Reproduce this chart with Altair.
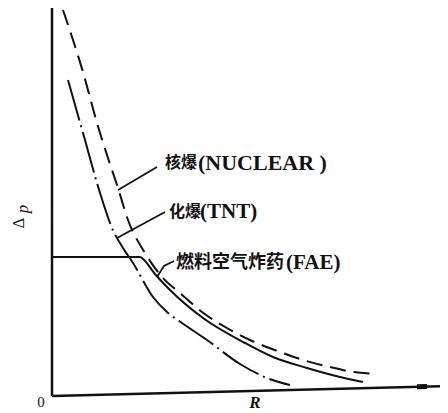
import altair as alt
import pandas as pd

# ---- data (R, Δp in arbitrary units) ----
nuclear_R  = [2.75, 5.25, 7.75, 11.25, 14.0, 16.5, 19.0, 23.25, 27.75, 32.0, 37.5, 43.75, 49.5, 57.0, 62.75, 69.5, 75.25, 81.25]
nuclear_dp = [96.25, 88.75, 80.75, 68.0, 59.25, 51.75, 43.75, 35.5, 29.25, 25.5, 20.75, 16.75, 13.75, 10.75, 8.75, 7.0, 5.75, 5.25]

tnt_R  = [4.0, 8.25, 12.0, 15.0, 17.75, 20.25, 25.25, 28.75, 32.5, 38.75, 47.0, 53.75, 59.5]
tnt_dp = [78.75, 63.75, 50.5, 41.75, 36.75, 33.0, 24.5, 20.75, 18.0, 13.75, 7.75, 4.25, 2.5]

fae_R  = [0.0, 22.0, 22.75, 25.75, 29.5, 37.75, 48.25, 55.25, 63.75, 72.0, 77.75]
fae_dp = [34.5, 34.5, 34.0, 30.25, 26.25, 19.25, 13.0, 9.5, 6.75, 4.5, 3.25]

# leader lines (label pointers)
leader_id = ["n", "n", "t", "t", "f", "f", "f"]
leader_R  = [16.5, 26.25, 16.25, 28.25, 26.25, 28.0, 30.5]
leader_dp = [51.25, 57.0, 39.25, 45.75, 29.5, 32.25, 33.5]

# labels
cjk_labels  = ["核爆", "化爆", "燃料空气炸药"]
cjk_R       = [28.25, 29.25, 31.0]
cjk_dp      = [58.0, 45.75, 33.1]
cjk_size    = [16, 16, 18]
latin_labels = ["(NUCLEAR )", "(TNT)", "(FAE)"]
latin_R      = [36.5, 37.0, 58.5]
latin_dp     = [58.0, 45.75, 33.1]
latin_size   = [22, 21, 21]

INK = "#111111"

xs = alt.Scale(domain=[-11, 97], nice=False, zero=False)
ys = alt.Scale(domain=[-4.5, 96.75], nice=False, zero=False)


def curve(R, dp, dash):
    df = pd.DataFrame({"R": R, "dp": dp, "o": list(range(len(R)))})
    kw = dict(color=INK, strokeWidth=2, interpolate="monotone")
    if dash:
        kw["strokeDash"] = dash
    return alt.Chart(df).mark_line(**kw).encode(
        x=alt.X("R:Q", scale=xs, axis=None),
        y=alt.Y("dp:Q", scale=ys, axis=None),
        order="o:Q",
    )


nuc = curve(nuclear_R, nuclear_dp, [16, 8])
tnt = curve(tnt_R, tnt_dp, [42, 5, 2, 5])
fae = curve(fae_R, fae_dp, None)

lead_df = pd.DataFrame({"id": leader_id, "R": leader_R, "dp": leader_dp, "o": list(range(len(leader_R)))})
leaders = alt.Chart(lead_df).mark_line(color=INK, strokeWidth=1.8).encode(
    x=alt.X("R:Q", scale=xs, axis=None),
    y=alt.Y("dp:Q", scale=ys, axis=None),
    detail="id:N",
    order="o:Q",
)

# axes drawn as rules
yaxis_df = pd.DataFrame({"R": [0.0], "y1": [-0.25], "y2": [96.75]})
yaxis = alt.Chart(yaxis_df).mark_rule(color=INK, strokeWidth=2.5).encode(
    x=alt.X("R:Q", scale=xs, axis=None),
    y=alt.Y("y1:Q", scale=ys, axis=None),
    y2="y2:Q",
)
xaxis_df = pd.DataFrame({"x1": [0.0], "x2": [97.0], "y1": [-0.25], "y2": [2.2]})
xaxis = alt.Chart(xaxis_df).mark_rule(color=INK, strokeWidth=2.5).encode(
    x=alt.X("x1:Q", scale=xs, axis=None),
    x2="x2:Q",
    y=alt.Y("y1:Q", scale=ys, axis=None),
    y2="y2:Q",
)
blob_df = pd.DataFrame({"x1": [91.25], "x2": [93.75], "y1": [2.05], "y2": [2.1]})
blob = alt.Chart(blob_df).mark_rule(color=INK, strokeWidth=5).encode(
    x=alt.X("x1:Q", scale=xs, axis=None),
    x2="x2:Q",
    y=alt.Y("y1:Q", scale=ys, axis=None),
    y2="y2:Q",
)

cjk_df = pd.DataFrame({"t": cjk_labels, "R": cjk_R, "dp": cjk_dp, "s": cjk_size})
cjk = alt.Chart(cjk_df).mark_text(
    font="Noto Sans CJK SC", fontWeight="bold", align="left", baseline="middle", color=INK
).encode(
    x=alt.X("R:Q", scale=xs, axis=None),
    y=alt.Y("dp:Q", scale=ys, axis=None),
    text="t:N",
    size=alt.Size("s:Q", scale=None, legend=None),
)

lat_df = pd.DataFrame({"t": latin_labels, "R": latin_R, "dp": latin_dp, "s": latin_size})
lat = alt.Chart(lat_df).mark_text(
    font="Liberation Serif", fontWeight="bold", align="left", baseline="middle", color=INK
).encode(
    x=alt.X("R:Q", scale=xs, axis=None),
    y=alt.Y("dp:Q", scale=ys, axis=None),
    text="t:N",
    size=alt.Size("s:Q", scale=None, legend=None),
)

def single_text(txt, R, dp, **kw):
    df = pd.DataFrame({"t": [txt], "R": [R], "dp": [dp]})
    return alt.Chart(df).mark_text(align="center", baseline="middle", color=INK, **kw).encode(
        x=alt.X("R:Q", scale=xs, axis=None),
        y=alt.Y("dp:Q", scale=ys, axis=None),
        text="t:N",
    )

zero_t = single_text("0", -2.75, -1.75, font="Liberation Serif", fontSize=15)
r_t = single_text("R", 50.75, -1.9, font="Liberation Serif", fontSize=17, fontStyle="italic", fontWeight="bold")
delta_t = single_text("Δ", -8.25, 43.0, font="Liberation Serif", fontSize=16, angle=270)
p_t = single_text("p", -7.25, 46.5, font="Liberation Serif", fontSize=17, fontStyle="italic", angle=270)

chart = alt.layer(
    yaxis, xaxis, blob, fae, tnt, nuc, leaders, cjk, lat, zero_t, r_t, delta_t, p_t
).properties(
    width=432,
    height=405,
    autosize=alt.AutoSizeParams(type="none"),
    padding=0,
    background="white",
).configure_view(stroke=None)

chart.save("out.html", embed_options={"renderer": "svg", "actions": False})
